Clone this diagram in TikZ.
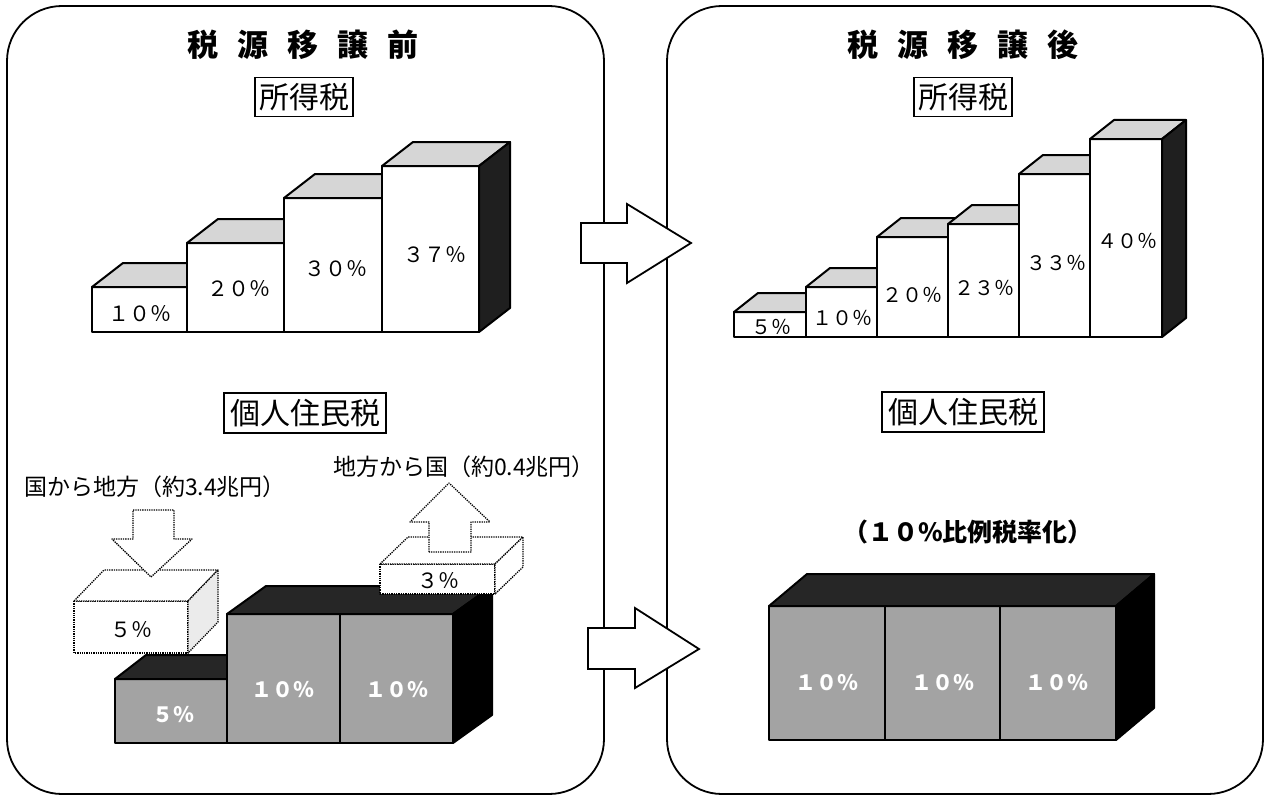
\documentclass[tikz,border=0pt]{standalone}
\usepackage{fontspec}
\setmainfont{Noto Sans CJK JP}
\newcommand\cuboid[9]{%
  \filldraw[#7] (#1,#3) rectangle (#2,#4);
  \filldraw[#8] (#1,#3) -- (#1+#5,#3-#6) -- (#2+#5,#3-#6) -- (#2,#3) -- cycle;
  \filldraw[#9] (#2,#3) -- (#2+#5,#3-#6) -- (#2+#5,#4-#6) -- (#2,#4) -- cycle;
}
\newcommand\fs[1]{\fontsize{#1}{#1}\selectfont}
\tikzset{
  panel/.style={draw=black, line width=1.8pt, rounded corners=55pt},
  barline/.style={draw=black, line width=2pt, line join=round},
  wfront/.style={barline, fill=white},
  ltop/.style={barline, fill=black!16},
  dside/.style={barline, fill=black!88},
  gfront/.style={barline, fill=black!36},
  dtop/.style={barline, fill=black!85},
  bside/.style={barline, fill=black},
  dotline/.style={draw=black, line width=1.3pt, densely dotted, line join=round},
  dfront/.style={dotline, fill=white},
  dlside/.style={dotline, fill=black!8},
  blockarrow/.style={draw=black, line width=1.8pt, fill=white, line join=miter},
  dotarrow/.style={dotline, fill=white},
  title/.style={font=\fs{31}\bfseries, inner sep=0pt},
  tagbox/.style={draw=black, line width=1.6pt, inner xsep=3pt, inner ysep=2pt, fill=white},
  pct/.style={font=\fs{21}, inner sep=0pt},
  wpct/.style={font=\fs{21}\bfseries, text=white, inner sep=0pt},
  note/.style={font=\fs{23}, inner sep=0pt},
}
\begin{document}
\begin{tikzpicture}[x=1pt,y=-1pt]
\useasboundingbox (0,0) rectangle (1265,797);
% panels
\draw[panel] (7,6) rectangle (604,794);
\draw[panel] (667,6) rectangle (1263,794);
% titles
\node[title] (t1) at (303,45) {税\hspace{19pt}源\hspace{19pt}移\hspace{19pt}譲\hspace{19pt}前};
\node[title] (t2) at (963,45) {税\hspace{19pt}源\hspace{19pt}移\hspace{19pt}譲\hspace{19pt}後};
\node[tagbox, minimum width=98pt, minimum height=39pt, font=\fs{30}] (s1) at (304,97) {所得税};
\node[tagbox, minimum width=98pt, minimum height=39pt, font=\fs{30}] (s2) at (963,97) {所得税};
\node[tagbox, minimum width=162pt, minimum height=40pt, font=\fs{30}] (j1) at (305,413) {個人住民税};
\node[tagbox, minimum width=162pt, minimum height=40pt, font=\fs{30}] (j2) at (963,412) {個人住民税};
% left income tax bars
\cuboid{92}{187}{287}{332}{31}{24}{wfront}{ltop}{dside}
\cuboid{187}{284}{243}{332}{31}{24}{wfront}{ltop}{dside}
\cuboid{284}{382}{198}{332}{31}{24}{wfront}{ltop}{dside}
\cuboid{382}{479}{166}{332}{31}{24}{wfront}{ltop}{dside}
\node[pct] (a1) at (140,314) {１０％};
\node[pct] (a2) at (239,289) {２０％};
\node[pct] (a3) at (336,269) {３０％};
\node[pct] (a4) at (435,255) {３７％};
% right income tax bars
\cuboid{734}{806}{312}{337}{24}{19}{wfront}{ltop}{dside}
\cuboid{806}{877}{287}{337}{24}{19}{wfront}{ltop}{dside}
\cuboid{877}{948}{237}{337}{24}{19}{wfront}{ltop}{dside}
\cuboid{948}{1019}{224}{337}{24}{19}{wfront}{ltop}{dside}
\cuboid{1019}{1090}{174}{337}{24}{19}{wfront}{ltop}{dside}
\cuboid{1090}{1162}{139}{337}{24}{19}{wfront}{ltop}{dside}
\node[pct, font=\fs{20}] (b1) at (771,327) {５％};
\node[pct, font=\fs{20}] (b2) at (842,318) {１０％};
\node[pct, font=\fs{20}] (b3) at (912,295) {２０％};
\node[pct, font=\fs{20}] (b4) at (984,288) {２３％};
\node[pct, font=\fs{20}] (b5) at (1056,263) {３３％};
\node[pct, font=\fs{20}] (b6) at (1127,241) {４０％};
% block arrows
\draw[blockarrow] (581,223) -- (627,223) -- (627,204) -- (691,243) -- (627,283) -- (627,263) -- (581,263) -- cycle;
\draw[blockarrow] (588,628) -- (635,628) -- (635,608) -- (699,649) -- (635,688) -- (635,669) -- (588,669) -- cycle;
% left resident tax
\cuboid{115}{227}{679}{743}{31}{24}{gfront}{dtop}{bside}
\cuboid{227}{453}{614}{743}{39}{28}{gfront}{dtop}{bside}
\draw[barline] (340,614) -- (340,743);
\node[wpct] (c1) at (173,715) {５％};
\node[wpct] (c2) at (283,690) {１０％};
\node[wpct] (c3) at (397,690) {１０％};
\cuboid{74}{188}{601}{653}{30}{31}{dfront}{dfront}{dlside}
\node[pct] (d1) at (131,630) {５％};
\cuboid{380}{495}{564}{594}{28}{27}{dfront}{dfront}{dfront}
\node[pct] (d2) at (438,581) {３％};
\draw[dotarrow] (133,510) -- (174,510) -- (174,539) -- (192,539) -- (151,577) -- (112,539) -- (133,539) -- cycle;
\draw[dotarrow] (429,552) -- (429,522) -- (410,522) -- (449,483) -- (490,522) -- (471,522) -- (471,552) -- cycle;
\node[note] (n1) at (155,487) {国から地方（約3.4兆円）};
\node[note] (n2) at (464,467) {地方から国（約0.4兆円）};
% right resident tax
\node[note, font=\fs{25}\bfseries] (n3) at (968,532) {（１０\%比例税率化）};
\cuboid{769}{1116}{606}{740}{38}{32}{gfront}{dtop}{bside}
\draw[barline] (885,606) -- (885,740);
\draw[barline] (1000,606) -- (1000,740);
\node[wpct] (e1) at (827,683) {１０％};
\node[wpct] (e2) at (943,683) {１０％};
\node[wpct] (e3) at (1057,683) {１０％};
\end{tikzpicture}
\end{document}
